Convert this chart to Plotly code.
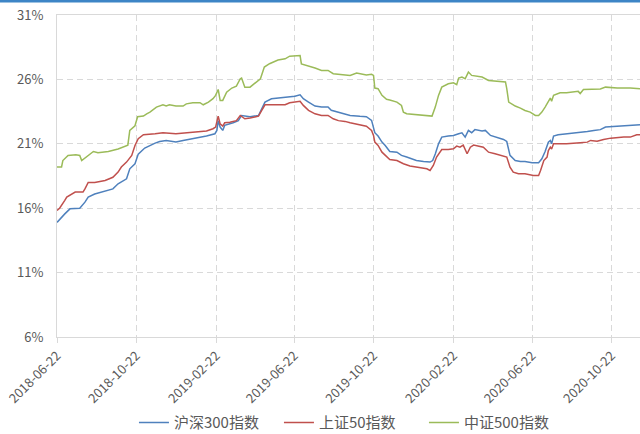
import plotly.graph_objects as go

# ---------------- data ----------------
hs300_dates = ["2018-06-22","2018-06-29","2018-07-04","2018-07-12","2018-07-27","2018-08-04","2018-08-09","2018-08-19",
    "2018-09-04","2018-09-16","2018-09-24","2018-10-07","2018-10-12","2018-10-20","2018-10-25","2018-11-04","2018-11-20",
    "2018-11-27","2018-12-07","2018-12-22","2019-01-02","2019-01-17","2019-02-07","2019-02-20","2019-02-23","2019-02-25",
    "2019-02-28","2019-03-04","2019-03-07","2019-03-20","2019-03-28","2019-04-02","2019-04-15","2019-04-28","2019-05-03",
    "2019-05-08","2019-05-18","2019-05-28","2019-06-08","2019-06-23","2019-07-01","2019-07-06","2019-07-14","2019-07-24",
    "2019-08-03","2019-08-13","2019-08-18","2019-08-29","2019-09-08","2019-09-16","2019-10-01","2019-10-11","2019-10-19",
    "2019-10-22","2019-10-24","2019-10-29","2019-11-04","2019-11-09","2019-11-16","2019-11-27","2019-12-04","2019-12-12",
    "2019-12-27","2020-01-07","2020-01-17","2020-01-21","2020-01-25","2020-01-30","2020-02-04","2020-02-14","2020-02-22",
    "2020-03-01","2020-03-06","2020-03-11","2020-03-16","2020-03-21","2020-03-26","2020-04-06","2020-04-11","2020-04-19",
    "2020-05-01","2020-05-09","2020-05-14","2020-05-19","2020-05-27","2020-06-04","2020-06-11","2020-06-22","2020-07-02",
    "2020-07-07","2020-07-12","2020-07-17","2020-07-20","2020-07-22","2020-07-25","2020-08-01","2020-08-15","2020-09-04",
    "2020-09-15","2020-09-25","2020-10-05","2020-10-13","2020-10-31","2020-11-20","2020-12-05"]
hs300_vals = [14.9,15.3,15.56,15.95,16.0,16.47,16.86,17.1,
    17.3,17.5,17.9,18.28,19.06,19.45,20.2,20.67,21.05,
    21.18,21.26,21.15,21.26,21.39,21.6,21.78,22.04,22.8,
    22.3,22.04,22.43,22.63,22.8,23.2,23.1,23.2,23.72,
    24.24,24.5,24.55,24.63,24.7,24.8,24.5,24.24,23.93,
    23.85,23.85,23.6,23.46,23.28,23.2,23.13,23.1,22.82,
    22.3,21.86,21.6,21.13,20.87,20.4,20.35,20.1,19.97,
    19.7,19.63,19.58,19.7,20.2,21.0,21.52,21.6,21.65,
    21.78,21.85,21.52,22.04,21.86,22.1,22.0,22.04,21.65,
    21.44,21.34,21.18,20.1,19.7,19.63,19.63,19.53,19.53,
    19.84,20.4,21.13,21.26,21.0,21.6,21.7,21.78,21.86,
    21.96,22.04,22.1,22.3,22.37,22.43,22.48]

sz50_dates = ["2018-06-22","2018-06-26","2018-07-04","2018-07-07","2018-07-20","2018-08-01","2018-08-04","2018-08-09",
    "2018-08-19","2018-09-04","2018-09-16","2018-09-24","2018-09-29","2018-10-07","2018-10-15","2018-10-20","2018-10-25",
    "2018-11-02","2018-11-20","2018-12-02","2018-12-22","2019-01-17","2019-01-28","2019-02-07","2019-02-17","2019-02-21",
    "2019-02-25","2019-02-28","2019-03-04","2019-03-07","2019-03-15","2019-03-25","2019-03-31","2019-04-07","2019-04-15",
    "2019-04-28","2019-05-03","2019-05-08","2019-05-28","2019-06-08","2019-06-15","2019-07-01","2019-07-06","2019-07-14",
    "2019-07-24","2019-08-03","2019-08-13","2019-08-21","2019-08-29","2019-09-08","2019-09-16","2019-10-01","2019-10-11",
    "2019-10-19","2019-10-22","2019-10-24","2019-10-29","2019-11-04","2019-11-11","2019-11-16","2019-11-27","2019-12-07",
    "2019-12-17","2020-01-02","2020-01-12","2020-01-17","2020-01-22","2020-01-27","2020-02-01","2020-02-04","2020-02-14",
    "2020-02-22","2020-02-27","2020-03-03","2020-03-08","2020-03-14","2020-03-19","2020-03-24","2020-04-08","2020-04-16",
    "2020-04-26","2020-05-06","2020-05-14","2020-05-19","2020-05-24","2020-06-01","2020-06-11","2020-06-24","2020-07-02",
    "2020-07-05","2020-07-10","2020-07-15","2020-07-17","2020-07-20","2020-07-22","2020-07-25","2020-08-14","2020-09-04",
    "2020-09-15","2020-09-20","2020-09-30","2020-10-10","2020-10-21","2020-11-10","2020-11-20","2020-11-30","2020-12-05"]
sz50_vals = [15.82,16.0,16.6,16.86,17.25,17.25,17.5,18.0,
    18.0,18.15,18.4,18.8,19.2,19.58,20.1,20.87,21.39,
    21.7,21.78,21.85,21.78,21.9,21.95,22.0,22.17,22.3,
    23.15,22.55,22.37,22.63,22.68,22.8,23.2,22.94,23.0,
    23.15,23.6,24.03,24.03,24.03,24.19,24.3,23.98,23.6,
    23.33,23.2,23.2,22.94,22.8,22.74,22.63,22.48,22.37,
    22.04,21.65,21.13,20.87,20.35,19.97,19.78,19.7,19.45,
    19.27,19.11,19.06,18.93,19.32,19.97,20.35,20.56,20.56,
    20.61,20.82,20.74,20.9,20.23,20.74,20.9,20.74,20.35,
    20.23,20.1,19.97,19.19,18.8,18.67,18.67,18.54,18.54,
    18.93,19.7,19.97,20.48,20.74,20.6,21.0,21.0,21.08,
    21.13,21.26,21.2,21.34,21.44,21.52,21.52,21.7,21.7]

zz500_dates = ["2018-06-22","2018-06-29","2018-07-01","2018-07-09","2018-07-21","2018-07-27","2018-07-30","2018-08-09",
    "2018-08-17","2018-08-24","2018-09-09","2018-09-24","2018-10-02","2018-10-09","2018-10-12","2018-10-20","2018-10-24",
    "2018-11-02","2018-11-07","2018-11-12","2018-11-22","2018-12-02","2018-12-07","2018-12-12","2018-12-22","2019-01-02",
    "2019-01-07","2019-01-17","2019-01-28","2019-02-02","2019-02-10","2019-02-17","2019-02-21","2019-02-25","2019-02-28",
    "2019-03-04","2019-03-10","2019-03-18","2019-03-25","2019-03-31","2019-04-02","2019-04-07","2019-04-15","2019-04-28",
    "2019-05-01","2019-05-07","2019-05-15","2019-05-28","2019-06-08","2019-06-15","2019-07-01","2019-07-03","2019-07-14",
    "2019-07-24","2019-08-03","2019-08-13","2019-08-21","2019-09-01","2019-09-16","2019-09-26","2019-10-11","2019-10-19",
    "2019-10-22","2019-10-24","2019-10-29","2019-11-04","2019-11-11","2019-11-16","2019-11-27","2019-12-04","2019-12-07",
    "2019-12-12","2019-12-27","2020-01-12","2020-01-20","2020-01-25","2020-01-30","2020-02-04","2020-02-14","2020-02-22",
    "2020-02-27","2020-03-01","2020-03-06","2020-03-11","2020-03-16","2020-03-21","2020-04-06","2020-04-16","2020-05-12",
    "2020-05-14","2020-05-17","2020-05-24","2020-05-27","2020-06-04","2020-06-11","2020-06-19","2020-06-27","2020-07-02",
    "2020-07-07","2020-07-12","2020-07-17","2020-07-20","2020-07-22","2020-07-25","2020-08-04","2020-08-14","2020-09-01",
    "2020-09-04","2020-09-09","2020-10-05","2020-10-13","2020-10-31","2020-11-20","2020-12-05"]
zz500_vals = [19.19,19.2,19.7,20.1,20.15,20.1,19.7,20.1,
    20.4,20.3,20.4,20.6,20.74,20.9,22.04,22.4,23.1,
    23.15,23.33,23.46,23.85,24.03,23.93,24.03,23.93,23.93,
    24.1,24.19,24.19,24.03,24.24,24.5,24.76,25.22,24.37,
    24.37,25.0,25.33,25.48,26.05,26.1,25.4,25.4,25.9,
    26.05,26.96,27.22,27.5,27.6,27.8,27.85,27.2,27.0,
    26.88,26.7,26.7,26.44,26.36,26.31,26.5,26.35,26.4,
    26.31,25.33,25.28,24.76,24.45,24.4,24.24,23.98,23.46,
    23.33,23.25,23.2,23.15,23.85,24.76,25.4,25.66,25.74,
    25.59,26.1,26.18,26.05,26.57,26.31,26.18,25.92,25.8,
    25.28,24.24,24.03,23.93,23.77,23.59,23.46,23.2,23.2,
    23.46,23.85,24.24,24.55,24.3,24.76,24.96,24.96,25.07,
    24.9,25.22,25.25,25.4,25.33,25.33,25.28]

series_names = ["沪深300指数", "上证50指数", "中证500指数"]
x_tick_labels = ["2018-06-22","2018-10-22","2019-02-22","2019-06-22","2019-10-22","2020-02-22","2020-06-22","2020-10-22"]
y_tick_values = [6, 11, 16, 21, 26, 31]
y_tick_labels = [f"{v}%" for v in y_tick_values]

# ---------------- figure ----------------
colors = ["#4F81BD", "#C0504D", "#9BBB59"]
FONT = "Noto Sans CJK SC"
TXT = "#595959"
GRID = "#d9d9d9"

fig = go.Figure()
for name, xs, ys, c in zip(series_names,
                           [hs300_dates, sz50_dates, zz500_dates],
                           [hs300_vals, sz50_vals, zz500_vals], colors):
    fig.add_trace(go.Scatter(x=xs, y=ys, mode="lines", name=name,
                             line=dict(color=c, width=1.5)))

fig.update_layout(
    width=640, height=434,
    margin=dict(l=57, r=0, t=15, b=97, autoexpand=False),
    paper_bgcolor="white", plot_bgcolor="white",
    font=dict(family=FONT, size=13, color=TXT),
    showlegend=True,
    legend=dict(orientation="h", x=0.132, xanchor="left", y=-0.215, yanchor="top",
                font=dict(family=FONT, size=15, color=TXT), itemwidth=30,
                entrywidth=100, entrywidthmode="pixels"),
    shapes=[dict(type="rect", xref="paper", yref="paper",
                 x0=-57/583, x1=1.0, y0=1 + 12.5/322, y1=1 + 15/322,
                 fillcolor="#3d85c6", line=dict(width=0), layer="above")],
)
fig.update_xaxes(
    type="date", range=["2018-06-22", "2020-12-05"], automargin=False,
    tickvals=x_tick_labels, ticktext=x_tick_labels, tickangle=-45,
    showgrid=True, gridcolor=GRID, griddash="6px,4px", gridwidth=1,
    showline=True, linecolor=GRID, linewidth=1, mirror=True,
    ticks="outside", ticklen=5, tickcolor=GRID,
    tickfont=dict(family=FONT, size=13, color=TXT), zeroline=False,
)
fig.update_yaxes(
    range=[6, 31], tickvals=y_tick_values, ticktext=y_tick_labels, automargin=False,
    showgrid=True, gridcolor=GRID, griddash="6px,4px", gridwidth=1,
    showline=True, linecolor=GRID, linewidth=1, mirror=True,
    ticks="", ticklabelstandoff=10,
    tickfont=dict(family=FONT, size=13, color=TXT), zeroline=False,
)

fig.write_html("out.html", config={"displayModeBar": False},
               post_script="document.body.style.margin='0';document.body.style.padding='0';")
